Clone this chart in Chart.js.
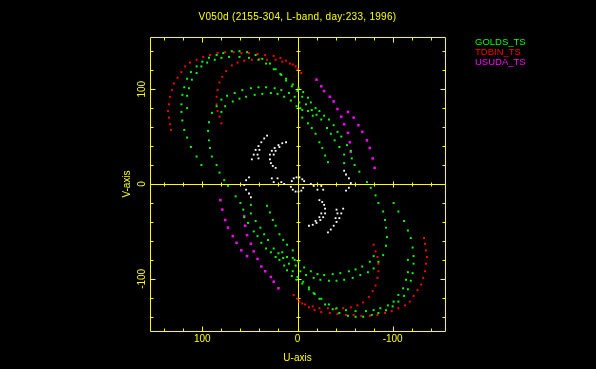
<!DOCTYPE html>
<html>
<head>
<meta charset="utf-8">
<title>V050d uv</title>
<script src="https://cdn.jsdelivr.net/npm/chart.js@4.4.0/dist/chart.umd.min.js"></script>
<style>
  html, body { margin: 0; padding: 0; background: #000; }
  canvas { display: block; }
</style>
</head>
<body>
<canvas id="uvPlot" width="596" height="369"></canvas>
<script>
//Titulo y nombres de las estaciones (leyenda)
const TITULO = 'V050d (2155-304, L-band, day:233, 1996)'
const estaciones = ['GOLDS_TS', 'TDBIN_TS', 'USUDA_TS']
//Marcas con etiqueta en ambos ejes
const ticksMayores = [-100, 0, 100]

//Puntos [u, v], cada pasada con su conjugada
const goldsPaso1 = [[101,20],[106,29],[112,39],[116,49],[119,57],[121,67],[122,76],[122,84],[121,94],[119,102],[116,111],[112,118],[106,124],[100,129],[93,133],[85,136],[78,138],[69,140],[61,140],[53,139],[44,136],[37,132],[29,127],[23,121],[17,115],[12,109],[6,103],[-1,101],[-6,97],[-11,91],[-14,86],[-19,80],[-23,77],[-28,72],[-33,68],[-38,62],[-42,55],[-46,50],[-52,41],[-56,35],[-57,27],[-60,20],[-65,13],[-73,2]]
const goldsPaso1Conj = [[-101,-20],[-106,-29],[-112,-39],[-116,-49],[-119,-57],[-121,-67],[-122,-76],[-122,-84],[-121,-94],[-119,-102],[-116,-111],[-112,-118],[-106,-124],[-100,-129],[-93,-133],[-85,-136],[-78,-138],[-69,-140],[-61,-140],[-53,-139],[-44,-136],[-37,-132],[-29,-127],[-23,-121],[-17,-115],[-12,-109],[-6,-103],[1,-101],[6,-97],[11,-91],[14,-86],[19,-80],[23,-77],[28,-72],[33,-68],[38,-62],[42,-55],[46,-50],[52,-41],[56,-35],[57,-27],[60,-20],[65,-13],[73,-2]]
const goldsPaso2 = [[116,80],[116,93],[114,101],[111,110],[106,117],[101,124],[95,128],[87,131],[80,133],[72,134],[61,134],[51,133],[41,131],[33,127],[25,121],[18,116],[12,111],[5,105],[0,98],[-5,92],[-9,84],[-15,78],[-20,73],[-25,68],[-31,59],[-35,53],[-39,46],[-44,39],[-49,31],[-49,22]]
const goldsPaso2Conj = [[-116,-80],[-116,-93],[-114,-101],[-111,-110],[-106,-117],[-101,-124],[-95,-128],[-87,-131],[-80,-133],[-72,-134],[-61,-134],[-51,-133],[-41,-131],[-33,-127],[-25,-121],[-18,-116],[-12,-111],[-5,-105],[0,-98],[5,-92],[9,-84],[15,-78],[20,-73],[25,-68],[31,-59],[35,-53],[39,-46],[44,-39],[49,-31],[49,-22]]
const goldsPaso3 = [[77,4],[82,12],[85,20],[90,29],[92,38],[93,46],[94,56],[93,65],[90,75],[85,82],[80,89],[74,93],[66,96],[58,99],[49,101],[41,102],[33,102],[24,101],[17,99],[9,96],[3,92],[-2,86],[-5,78],[-5,70],[-11,64],[-15,59],[-19,53],[-23,44],[-26,38],[-29,30],[-32,23]]
const goldsPaso3Conj = [[-77,-4],[-82,-12],[-85,-20],[-90,-29],[-92,-38],[-93,-46],[-94,-56],[-93,-65],[-90,-75],[-85,-82],[-80,-89],[-74,-93],[-66,-96],[-58,-99],[-49,-101],[-41,-102],[-33,-102],[-24,-101],[-17,-99],[-9,-96],[-3,-92],[2,-86],[5,-78],[5,-70],[11,-64],[15,-59],[19,-53],[23,-44],[26,-38],[29,-30],[32,-23]]
const goldsPaso4 = [[80,76],[76,82],[68,87],[61,90],[54,92],[45,94],[37,95],[28,96],[21,95],[14,92],[7,88],[1,82],[-3,80],[-11,77],[-16,72]]
const goldsPaso4Conj = [[-80,-76],[-76,-82],[-68,-87],[-61,-90],[-54,-92],[-45,-94],[-37,-95],[-28,-96],[-21,-95],[-14,-92],[-7,-88],[-1,-82],[3,-80],[11,-77],[16,-72]]

const tdbinPaso1 = [[133,57],[134,63],[135,70],[136,77],[135,84],[134,92],[132,99],[130,106],[126,112],[122,118],[118,124],[113,128],[106,131],[99,134],[92,136],[84,138],[76,139],[67,139],[59,138],[51,138],[42,137],[34,136],[25,135],[18,133],[12,130],[5,126],[0,121],[-4,117]]
const tdbinPaso1Conj = [[-133,-57],[-134,-63],[-135,-70],[-136,-77],[-135,-84],[-134,-92],[-132,-99],[-130,-106],[-126,-112],[-122,-118],[-118,-124],[-113,-128],[-106,-131],[-99,-134],[-92,-136],[-84,-138],[-76,-139],[-67,-139],[-59,-138],[-51,-138],[-42,-137],[-34,-136],[-25,-135],[-18,-133],[-12,-130],[-5,-126],[0,-121],[4,-117]]
const tdbinPaso2 = [[80,64],[82,71],[84,77],[85,84],[85,92],[84,99],[82,107],[79,113],[75,119],[69,125],[63,128],[56,130],[48,131],[40,132],[32,131],[23,131],[16,129],[8,127],[2,124]]
const tdbinPaso2Conj = [[-80,-64],[-82,-71],[-84,-77],[-85,-84],[-85,-92],[-84,-99],[-82,-107],[-79,-113],[-75,-119],[-69,-125],[-63,-128],[-56,-130],[-48,-131],[-40,-132],[-32,-131],[-23,-131],[-16,-129],[-8,-127],[-2,-124]]

const usudaPaso1 = [[-20,110],[-25,103],[-28,98],[-34,92],[-38,87],[-42,79],[-46,71],[-49,63],[-53,54],[-55,44],[-56,34]]
const usudaPaso1Conj = [[20,-110],[25,-103],[28,-98],[34,-92],[38,-87],[42,-79],[46,-71],[49,-63],[53,-54],[55,-44],[56,-34]]
const usudaPaso2 = [[-53,76],[-59,70],[-64,62],[-68,55],[-73,46],[-76,38],[-79,27],[-81,17]]
const usudaPaso2Conj = [[53,-76],[59,-70],[64,-62],[68,-55],[73,-46],[76,-38],[79,-27],[81,-17]]

//Lineas de base entre antenas de tierra (blanco)
const tierraArco1 = [[32,51],[35,48],[38,44],[41,40],[44,36],[46,31],[48,26],[40,36],[42,31],[41,27]]
const tierraArco1Conj = [[-32,-51],[-35,-48],[-38,-44],[-41,-40],[-44,-36],[-46,-31],[-48,-26],[-40,-36],[-42,-31],[-41,-27]]
const tierraArco2 = [[12,44],[16,43],[20,41],[24,38],[27,35],[29,31],[29,26],[28,22],[26,19],[23,17],[19,39],[23,35],[25,31]]
const tierraArco2Conj = [[-12,-44],[-16,-43],[-20,-41],[-24,-38],[-27,-35],[-29,-31],[-29,-26],[-28,-22],[-26,-19],[-23,-17],[-19,-39],[-23,-35],[-25,-31]]
const tierraCentro = [[6,3],[4,6],[1,7],[-2,7],[-5,5],[-7,3],[7,-3],[5,-6],[2,-8],[-1,-8],[-4,-7],[-6,-4]]
const tierraArco3 = [[51,7],[54,4],[56,-1],[54,-6],[51,-10],[49,-14],[27,6],[25,2],[21,6],[17,2],[14,0]]
const tierraArco3Conj = [[-51,-7],[-54,-4],[-56,1],[-54,6],[-51,10],[-49,14],[-27,-6],[-25,-2],[-21,-6],[-17,-2],[-14,0]]

const AMARILLO = '#ffff00'
const colores = ['#00ff00', '#ff0000', '#ff00ff']
const FUENTE = '"Liberation Sans", Arial, sans-serif'

//Convertimos los pares [u, v] en objetos {x, y}
function aPuntos() {
    let salida = []
    for (let i = 0; i < arguments.length; i++) {
        arguments[i].forEach(function (p) { salida.push({ x: p[0], y: p[1] }) })
    }
    return salida
}

//Plugin para el marco, los ejes en cero, las marcas, el titulo y la leyenda
const marcoPgplot = {
    id: 'marcoPgplot',
    beforeDatasetsDraw: function (chart) {
        const ctx = chart.ctx, a = chart.chartArea, sx = chart.scales.x, sy = chart.scales.y
        const L = Math.round(a.left) + 0.5, R = Math.round(a.right) + 0.5
        const T = Math.round(a.top) + 0.5, B = Math.round(a.bottom) + 0.5
        const x0 = Math.round(sx.getPixelForValue(0)) + 0.5
        const y0 = Math.round(sy.getPixelForValue(0)) + 0.5

        ctx.save()
        ctx.strokeStyle = AMARILLO
        ctx.lineWidth = 1
        ctx.beginPath()
        ctx.rect(L, T, R - L, B - T)
        //ejes que pasan por cero
        ctx.moveTo(L, y0); ctx.lineTo(R, y0)
        ctx.moveTo(x0, T); ctx.lineTo(x0, B)

        //marcas menores cada 20, mayores cada 100
        for (let v = -140; v <= 140; v += 20) {
            let largo = (v % 100 === 0) ? 5 : 3
            let med = (v % 100 === 0) ? 3 : 2
            let px = Math.round(sx.getPixelForValue(v)) + 0.5
            let py = Math.round(sy.getPixelForValue(v)) + 0.5
            ctx.moveTo(px, B); ctx.lineTo(px, B - largo)
            ctx.moveTo(px, T); ctx.lineTo(px, T + largo)
            ctx.moveTo(L, py); ctx.lineTo(L + largo, py)
            ctx.moveTo(R, py); ctx.lineTo(R - largo, py)
            if (v !== 0) {
                ctx.moveTo(px, y0 - med); ctx.lineTo(px, y0 + med)
                ctx.moveTo(x0 - med, py); ctx.lineTo(x0 + med, py)
            }
        }
        ctx.stroke()
        ctx.restore()
    },
    afterDraw: function (chart) {
        const ctx = chart.ctx
        ctx.save()
        ctx.textBaseline = 'middle'
        //titulo
        ctx.font = '10px ' + FUENTE
        ctx.fillStyle = AMARILLO
        ctx.textAlign = 'center'
        if ('letterSpacing' in ctx) ctx.letterSpacing = '0.3px'
        ctx.fillText(TITULO, 297.5, 17)
        if ('letterSpacing' in ctx) ctx.letterSpacing = '0px'
        //leyenda con el color de cada estacion
        ctx.textAlign = 'left'
        ctx.font = '9.5px ' + FUENTE
        for (let i = 0; i < estaciones.length; i++) {
            ctx.fillStyle = colores[i]
            ctx.fillText(estaciones[i], 475, 42 + i * 10.4)
        }
        ctx.restore()
    }
}

document.addEventListener('DOMContentLoaded', function () {
    const UV_PLOT = document.getElementById('uvPlot')

    const fuenteEjes = { family: FUENTE, size: 10 }

    new Chart(UV_PLOT, {
        type: 'scatter',
        data: {
            datasets: [{
                label: estaciones[0],
                data: aPuntos(goldsPaso1, goldsPaso1Conj, goldsPaso2, goldsPaso2Conj, goldsPaso3, goldsPaso3Conj, goldsPaso4, goldsPaso4Conj),
                backgroundColor: colores[0],
                pointStyle: 'rect',
                pointRadius: 1.4,
                borderWidth: 0
            }, {
                label: estaciones[1],
                data: aPuntos(tdbinPaso1, tdbinPaso1Conj, tdbinPaso2, tdbinPaso2Conj),
                backgroundColor: colores[1],
                pointStyle: 'rect',
                pointRadius: 1.4,
                borderWidth: 0
            }, {
                label: estaciones[2],
                data: aPuntos(usudaPaso1, usudaPaso1Conj, usudaPaso2, usudaPaso2Conj),
                backgroundColor: colores[2],
                pointStyle: 'rect',
                pointRadius: 1.8,
                borderWidth: 0
            }, {
                label: 'tierra',
                data: aPuntos(tierraArco1, tierraArco1Conj, tierraArco2, tierraArco2Conj, tierraCentro, tierraArco3, tierraArco3Conj),
                backgroundColor: '#ffffff',
                pointStyle: 'rect',
                pointRadius: 1.3,
                borderWidth: 0
            }]
        },
        options: {
            responsive: false,
            animation: false,
            devicePixelRatio: 1,
            events: [],
            layout: { padding: { left: 0, right: 151, top: 37, bottom: 0 } },
            plugins: {
                legend: { display: false },
                title: { display: false },
                tooltip: { enabled: false }
            },
            scales: {
                x: {
                    type: 'linear',
                    min: -155,
                    max: 155,
                    reverse: true,
                    grid: { display: false, drawTicks: false },
                    border: { display: false },
                    ticks: { color: AMARILLO, font: fuenteEjes, padding: 2, includeBounds: false },
                    afterBuildTicks: function (s) { s.ticks = ticksMayores.map(function (v) { return { value: v } }) },
                    title: { display: true, text: 'U-axis', color: AMARILLO, font: fuenteEjes, padding: { top: 0, bottom: 5 } },
                    afterFit: function (s) { s.height = 38 }
                },
                y: {
                    type: 'linear',
                    min: -155,
                    max: 155,
                    grid: { display: false, drawTicks: false },
                    border: { display: false },
                    ticks: { color: AMARILLO, font: fuenteEjes, padding: -2, includeBounds: false, minRotation: 90, maxRotation: 90, crossAlign: 'center' },
                    afterBuildTicks: function (s) { s.ticks = ticksMayores.map(function (v) { return { value: v } }) },
                    title: { display: true, text: 'V-axis', color: AMARILLO, font: fuenteEjes, padding: { top: 121, bottom: 0 } },
                    afterFit: function (s) { s.width = 150 }
                }
            }
        },
        plugins: [marcoPgplot]
    })
})
</script>
</body>
</html>
